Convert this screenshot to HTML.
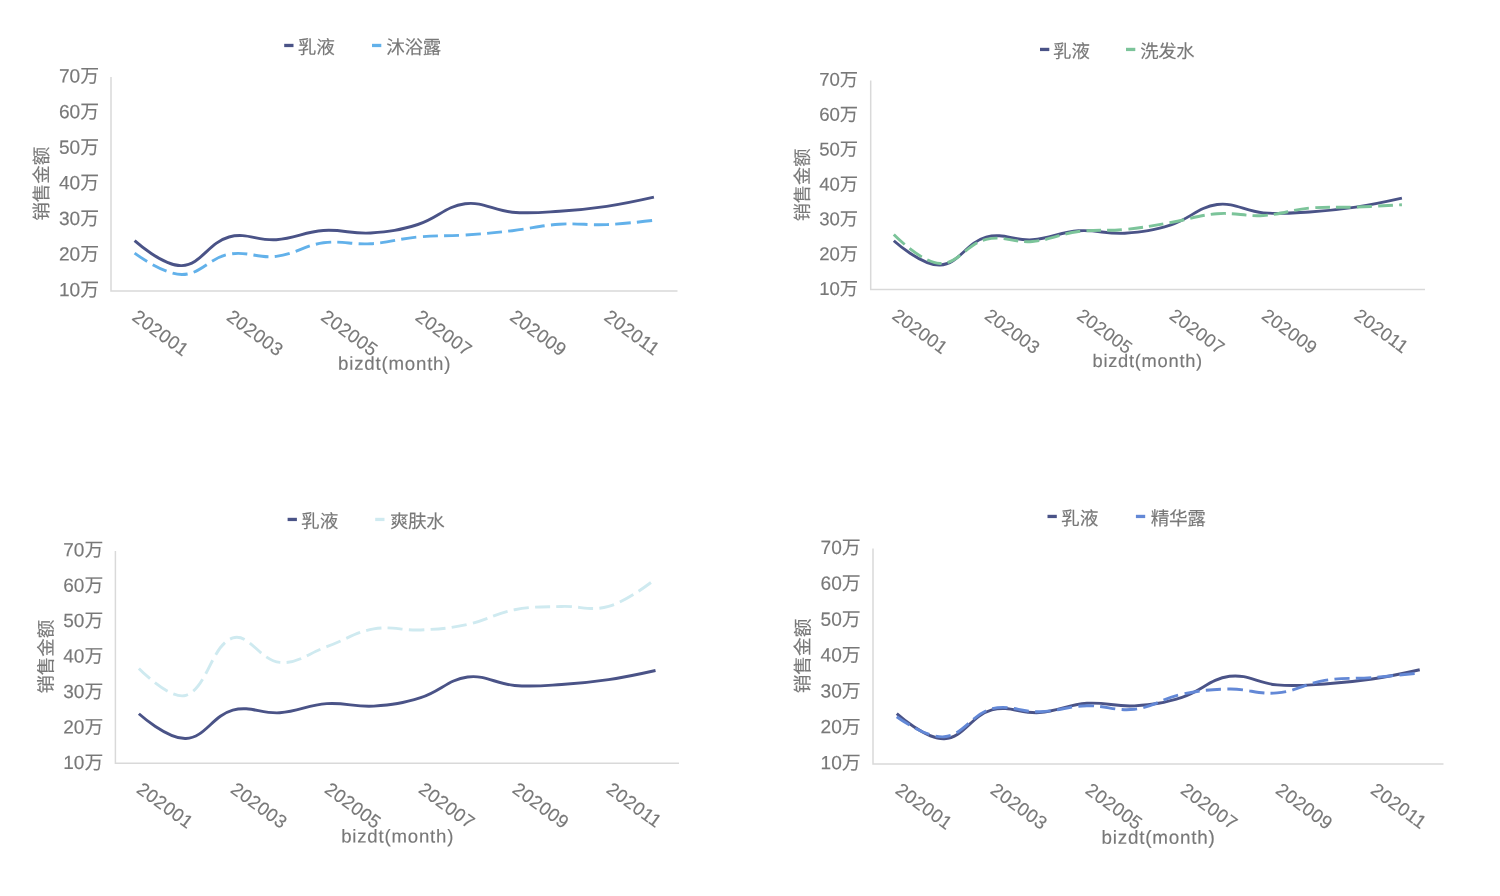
<!DOCTYPE html>
<html lang="zh-CN">
<head>
<meta charset="utf-8">
<title>销售金额 bizdt(month)</title>
<style>
html,body{margin:0;padding:0;background:#fff;}
body{width:1500px;height:896px;overflow:hidden;font-family:"Liberation Sans", "Noto Sans CJK SC", sans-serif;}
svg{display:block;filter:blur(0.45px);}
svg text{font-family:"Liberation Sans", "Noto Sans CJK SC", sans-serif;fill:#787878;font-weight:400;stroke:#787878;stroke-width:0.12px;}
svg .n{stroke-width:0.15px;}
</style>
</head>
<body>
<svg width="1500" height="896" viewBox="0 0 1500 896">
<rect width="1500" height="896" fill="#ffffff"/>
<g class="chart" id="c1">
<path class="axis" d="M111,77 V290.9 H677.5" fill="none" stroke="#d9d9d9" stroke-width="1.5"/>
<text class="yl" transform="translate(98.98,296.17) rotate(0.04)" text-anchor="end"><tspan class="n" font-size="19.1">10</tspan><tspan font-size="18.85">万</tspan></text>
<text class="yl" transform="translate(98.98,260.57) rotate(0.04)" text-anchor="end"><tspan class="n" font-size="19.1">20</tspan><tspan font-size="18.85">万</tspan></text>
<text class="yl" transform="translate(98.98,224.97) rotate(0.04)" text-anchor="end"><tspan class="n" font-size="19.1">30</tspan><tspan font-size="18.85">万</tspan></text>
<text class="yl" transform="translate(98.98,189.37) rotate(0.04)" text-anchor="end"><tspan class="n" font-size="19.1">40</tspan><tspan font-size="18.85">万</tspan></text>
<text class="yl" transform="translate(98.98,153.77) rotate(0.04)" text-anchor="end"><tspan class="n" font-size="19.1">50</tspan><tspan font-size="18.85">万</tspan></text>
<text class="yl" transform="translate(98.98,118.17) rotate(0.04)" text-anchor="end"><tspan class="n" font-size="19.1">60</tspan><tspan font-size="18.85">万</tspan></text>
<text class="yl" transform="translate(98.98,82.57) rotate(0.04)" text-anchor="end"><tspan class="n" font-size="19.1">70</tspan><tspan font-size="18.85">万</tspan></text>
<text class="yt" transform="translate(40.98,183.72) rotate(-89.96)" y="7.05" text-anchor="middle" font-size="18.55">销售金额</text>
<text class="xl n" transform="translate(134.85,314.05) rotate(36)" y="6.49" font-size="18.6" letter-spacing="0.37">202001</text>
<text class="xl n" transform="translate(229.27,314.05) rotate(36)" y="6.49" font-size="18.6" letter-spacing="0.37">202003</text>
<text class="xl n" transform="translate(323.69,314.05) rotate(36)" y="6.49" font-size="18.6" letter-spacing="0.37">202005</text>
<text class="xl n" transform="translate(418.10,314.05) rotate(36)" y="6.49" font-size="18.6" letter-spacing="0.37">202007</text>
<text class="xl n" transform="translate(512.52,314.05) rotate(36)" y="6.49" font-size="18.6" letter-spacing="0.37">202009</text>
<text class="xl n" transform="translate(606.94,314.05) rotate(36)" y="6.49" font-size="18.6" letter-spacing="0.37">202011</text>
<text class="xt n" transform="translate(338.02,369.83) rotate(0.04)" font-size="18.7" letter-spacing="0.785">bizdt(month)</text>
<line class="lm" x1="284.2" x2="293.5" y1="45.47" y2="45.47" stroke="#4a5387" stroke-width="3.3"/>
<text class="lg" transform="translate(297.76,53.64) rotate(0.04)" font-size="18.6">乳液</text>
<line class="lm" x1="372.0" x2="381.3" y1="45.47" y2="45.47" stroke="#62b1ea" stroke-width="3.3"/>
<text class="lg" transform="translate(386.3,53.64) rotate(0.04)" font-size="18.6" letter-spacing="-0.4">沐浴露</text>
<path class="s1" d="M134.60,240.70 C134.60,240.70 163.25,266.33 181.81,265.60 C201.01,264.85 208.68,242.58 229.02,237.00 C246.45,232.22 257.51,240.99 276.23,239.70 C295.27,238.39 304.39,231.85 323.44,230.50 C342.16,229.17 351.90,234.19 370.65,233.00 C389.67,231.79 399.66,230.15 417.85,224.50 C437.42,218.43 445.49,206.25 465.06,203.70 C483.26,201.33 493.24,210.67 512.27,212.20 C531.01,213.71 540.64,212.46 559.48,211.30 C578.41,210.14 587.93,209.20 606.69,206.40 C625.70,203.56 653.90,197.20 653.90,197.20" fill="none" stroke="#4a5387" stroke-width="2.9" stroke-linejoin="round"/>
<path class="s2" d="M134.60,253.20 C134.60,253.20 162.86,274.30 181.81,274.50 C200.62,274.70 209.35,257.97 229.02,254.20 C247.11,250.73 257.71,258.64 276.23,256.40 C295.48,254.08 304.18,245.39 323.44,242.80 C341.95,240.31 351.85,244.85 370.65,243.70 C389.62,242.53 398.89,238.75 417.85,237.00 C436.65,235.27 446.21,236.26 465.06,235.00 C483.98,233.74 493.44,232.85 512.27,230.70 C531.20,228.53 540.51,225.43 559.48,224.20 C578.27,222.99 587.84,225.38 606.69,224.60 C625.61,223.82 653.90,220.30 653.90,220.30" fill="none" stroke="#62b1ea" stroke-width="2.9" stroke-dasharray="15.2,6.3" stroke-linejoin="round"/>
</g>
<g class="chart" id="c2">
<path class="axis" d="M870.7,80.5 V289.5 H1425" fill="none" stroke="#d9d9d9" stroke-width="1.5"/>
<text class="yl" transform="translate(858.1,295.02) rotate(0.04)" text-anchor="end"><tspan class="n" font-size="18.6">10</tspan><tspan font-size="18.3">万</tspan></text>
<text class="yl" transform="translate(858.1,260.16) rotate(0.04)" text-anchor="end"><tspan class="n" font-size="18.6">20</tspan><tspan font-size="18.3">万</tspan></text>
<text class="yl" transform="translate(858.1,225.31) rotate(0.04)" text-anchor="end"><tspan class="n" font-size="18.6">30</tspan><tspan font-size="18.3">万</tspan></text>
<text class="yl" transform="translate(858.1,190.45) rotate(0.04)" text-anchor="end"><tspan class="n" font-size="18.6">40</tspan><tspan font-size="18.3">万</tspan></text>
<text class="yl" transform="translate(858.1,155.60) rotate(0.04)" text-anchor="end"><tspan class="n" font-size="18.6">50</tspan><tspan font-size="18.3">万</tspan></text>
<text class="yl" transform="translate(858.1,120.74) rotate(0.04)" text-anchor="end"><tspan class="n" font-size="18.6">60</tspan><tspan font-size="18.3">万</tspan></text>
<text class="yl" transform="translate(858.1,85.89) rotate(0.04)" text-anchor="end"><tspan class="n" font-size="18.6">70</tspan><tspan font-size="18.3">万</tspan></text>
<text class="yt" transform="translate(801.73,184.98) rotate(-89.96)" y="6.92" text-anchor="middle" font-size="18.2">销售金额</text>
<text class="xl n" transform="translate(894.80,312.80) rotate(36)" y="6.35" font-size="18.2" letter-spacing="0.37">202001</text>
<text class="xl n" transform="translate(987.18,312.80) rotate(36)" y="6.35" font-size="18.2" letter-spacing="0.37">202003</text>
<text class="xl n" transform="translate(1079.56,312.80) rotate(36)" y="6.35" font-size="18.2" letter-spacing="0.37">202005</text>
<text class="xl n" transform="translate(1171.95,312.80) rotate(36)" y="6.35" font-size="18.2" letter-spacing="0.37">202007</text>
<text class="xl n" transform="translate(1264.33,312.80) rotate(36)" y="6.35" font-size="18.2" letter-spacing="0.37">202009</text>
<text class="xl n" transform="translate(1356.71,312.80) rotate(36)" y="6.35" font-size="18.2" letter-spacing="0.37">202011</text>
<text class="xt n" transform="translate(1092.47,367.0) rotate(0.04)" font-size="18.3" letter-spacing="0.74">bizdt(month)</text>
<line class="lm" x1="1040.0" x2="1049.3" y1="49.45" y2="49.45" stroke="#4a5387" stroke-width="3.3"/>
<text class="lg" transform="translate(1053.1,57.78) rotate(0.04)" font-size="18.4">乳液</text>
<line class="lm" x1="1126.0" x2="1135.3" y1="49.45" y2="49.45" stroke="#7cc49a" stroke-width="3.3"/>
<text class="lg" transform="translate(1140.3,57.78) rotate(0.04)" font-size="18.4" letter-spacing="-0.4">洗发水</text>
<path class="s1" d="M893.80,240.75 C893.80,240.75 921.82,265.84 939.99,265.12 C958.77,264.39 966.28,242.59 986.18,237.13 C1003.23,232.45 1014.05,241.03 1032.37,239.77 C1051.00,238.49 1059.93,232.09 1078.56,230.76 C1096.88,229.46 1106.41,234.38 1124.75,233.21 C1143.37,232.03 1153.14,230.42 1170.95,224.89 C1190.09,218.95 1197.99,207.03 1217.14,204.53 C1234.94,202.21 1244.71,211.35 1263.33,212.85 C1281.66,214.33 1291.09,213.10 1309.52,211.97 C1328.05,210.83 1337.36,209.91 1355.71,207.17 C1374.31,204.39 1401.90,198.17 1401.90,198.17" fill="none" stroke="#4a5387" stroke-width="2.9" stroke-linejoin="round"/>
<path class="s2" d="M893.80,234.50 C893.80,234.50 921.10,262.52 939.99,263.50 C958.05,264.44 966.59,243.96 986.18,239.30 C1003.55,235.16 1014.10,243.04 1032.37,241.50 C1051.05,239.92 1059.88,233.93 1078.56,231.50 C1096.84,229.13 1106.37,231.29 1124.75,229.50 C1143.33,227.69 1152.53,225.65 1170.95,222.50 C1189.48,219.33 1198.50,215.11 1217.14,213.70 C1235.46,212.31 1244.96,216.61 1263.33,215.50 C1281.92,214.37 1290.93,209.79 1309.52,208.10 C1327.88,206.43 1337.25,207.78 1355.71,207.10 C1374.20,206.42 1401.90,204.70 1401.90,204.70" fill="none" stroke="#7cc49a" stroke-width="2.9" stroke-dasharray="14.9,6.1" stroke-linejoin="round"/>
</g>
<g class="chart" id="c3">
<path class="axis" d="M115.4,551 V763.3 H679" fill="none" stroke="#d9d9d9" stroke-width="1.5"/>
<text class="yl" transform="translate(103.16,768.93) rotate(0.04)" text-anchor="end"><tspan class="n" font-size="19.0">10</tspan><tspan font-size="18.8">万</tspan></text>
<text class="yl" transform="translate(103.16,733.48) rotate(0.04)" text-anchor="end"><tspan class="n" font-size="19.0">20</tspan><tspan font-size="18.8">万</tspan></text>
<text class="yl" transform="translate(103.16,698.03) rotate(0.04)" text-anchor="end"><tspan class="n" font-size="19.0">30</tspan><tspan font-size="18.8">万</tspan></text>
<text class="yl" transform="translate(103.16,662.58) rotate(0.04)" text-anchor="end"><tspan class="n" font-size="19.0">40</tspan><tspan font-size="18.8">万</tspan></text>
<text class="yl" transform="translate(103.16,627.13) rotate(0.04)" text-anchor="end"><tspan class="n" font-size="19.0">50</tspan><tspan font-size="18.8">万</tspan></text>
<text class="yl" transform="translate(103.16,591.68) rotate(0.04)" text-anchor="end"><tspan class="n" font-size="19.0">60</tspan><tspan font-size="18.8">万</tspan></text>
<text class="yl" transform="translate(103.16,556.23) rotate(0.04)" text-anchor="end"><tspan class="n" font-size="19.0">70</tspan><tspan font-size="18.8">万</tspan></text>
<text class="yt" transform="translate(45.45,656.72) rotate(-89.96)" y="7.01" text-anchor="middle" font-size="18.45">销售金额</text>
<text class="xl n" transform="translate(139.38,786.60) rotate(36)" y="6.46" font-size="18.5" letter-spacing="0.37">202001</text>
<text class="xl n" transform="translate(233.32,786.60) rotate(36)" y="6.46" font-size="18.5" letter-spacing="0.37">202003</text>
<text class="xl n" transform="translate(327.25,786.60) rotate(36)" y="6.46" font-size="18.5" letter-spacing="0.37">202005</text>
<text class="xl n" transform="translate(421.18,786.60) rotate(36)" y="6.46" font-size="18.5" letter-spacing="0.37">202007</text>
<text class="xl n" transform="translate(515.12,786.60) rotate(36)" y="6.46" font-size="18.5" letter-spacing="0.37">202009</text>
<text class="xl n" transform="translate(609.05,786.60) rotate(36)" y="6.46" font-size="18.5" letter-spacing="0.37">202011</text>
<text class="xt n" transform="translate(341.2,842.42) rotate(0.04)" font-size="18.6" letter-spacing="0.8">bizdt(month)</text>
<line class="lm" x1="287.6" x2="296.90000000000003" y1="519.45" y2="519.45" stroke="#4a5387" stroke-width="3.3"/>
<text class="lg" transform="translate(301.07,527.86) rotate(0.04)" font-size="18.6">乳液</text>
<line class="lm" x1="375.2" x2="384.5" y1="519.45" y2="519.45" stroke="#cfeaf0" stroke-width="3.3"/>
<text class="lg" transform="translate(389.92,527.86) rotate(0.04)" font-size="18.6" letter-spacing="-0.4">爽肤水</text>
<path class="s1" d="M138.88,713.78 C138.88,713.78 167.38,739.26 185.85,738.54 C204.95,737.79 212.58,715.65 232.82,710.10 C250.15,705.35 261.16,714.07 279.78,712.79 C298.73,711.48 307.80,704.98 326.75,703.64 C345.37,702.32 355.07,707.31 373.72,706.12 C392.64,704.92 402.58,703.29 420.68,697.67 C440.15,691.63 448.18,679.52 467.65,676.99 C485.75,674.63 495.68,683.92 514.62,685.44 C533.26,686.94 542.85,685.70 561.58,684.55 C580.42,683.39 589.89,682.46 608.55,679.67 C627.46,676.85 655.52,670.52 655.52,670.52" fill="none" stroke="#4a5387" stroke-width="2.9" stroke-linejoin="round"/>
<path class="s2" d="M138.88,668.39 C138.88,668.39 170.00,700.51 185.85,695.36 C207.57,688.32 210.89,645.61 232.82,637.92 C248.47,632.43 260.37,660.58 279.78,662.40 C297.94,664.09 308.10,653.36 326.75,646.71 C345.67,639.97 354.30,632.40 373.72,628.93 C391.88,625.68 401.96,630.82 420.68,629.93 C439.53,629.02 449.24,628.39 467.65,624.43 C486.81,620.31 495.42,613.42 514.62,609.74 C532.99,606.23 542.77,607.11 561.58,606.45 C580.35,605.79 591.14,611.54 608.55,606.45 C628.72,600.55 655.52,578.97 655.52,578.97" fill="none" stroke="#cfeaf0" stroke-width="2.9" stroke-dasharray="15.2,6.3" stroke-linejoin="round"/>
</g>
<g class="chart" id="c4">
<path class="axis" d="M873,548.6 V764.1 H1443.5" fill="none" stroke="#d9d9d9" stroke-width="1.5"/>
<text class="yl" transform="translate(860.75,769.27) rotate(0.04)" text-anchor="end"><tspan class="n" font-size="19.1">10</tspan><tspan font-size="18.9">万</tspan></text>
<text class="yl" transform="translate(860.75,733.39) rotate(0.04)" text-anchor="end"><tspan class="n" font-size="19.1">20</tspan><tspan font-size="18.9">万</tspan></text>
<text class="yl" transform="translate(860.75,697.50) rotate(0.04)" text-anchor="end"><tspan class="n" font-size="19.1">30</tspan><tspan font-size="18.9">万</tspan></text>
<text class="yl" transform="translate(860.75,661.62) rotate(0.04)" text-anchor="end"><tspan class="n" font-size="19.1">40</tspan><tspan font-size="18.9">万</tspan></text>
<text class="yl" transform="translate(860.75,625.74) rotate(0.04)" text-anchor="end"><tspan class="n" font-size="19.1">50</tspan><tspan font-size="18.9">万</tspan></text>
<text class="yl" transform="translate(860.75,589.85) rotate(0.04)" text-anchor="end"><tspan class="n" font-size="19.1">60</tspan><tspan font-size="18.9">万</tspan></text>
<text class="yl" transform="translate(860.75,553.97) rotate(0.04)" text-anchor="end"><tspan class="n" font-size="19.1">70</tspan><tspan font-size="18.9">万</tspan></text>
<text class="yt" transform="translate(802.24,655.97) rotate(-89.96)" y="7.11" text-anchor="middle" font-size="18.7">销售金额</text>
<text class="xl n" transform="translate(897.97,787.30) rotate(36)" y="6.53" font-size="18.7" letter-spacing="0.37">202001</text>
<text class="xl n" transform="translate(993.05,787.30) rotate(36)" y="6.53" font-size="18.7" letter-spacing="0.37">202003</text>
<text class="xl n" transform="translate(1088.14,787.30) rotate(36)" y="6.53" font-size="18.7" letter-spacing="0.37">202005</text>
<text class="xl n" transform="translate(1183.22,787.30) rotate(36)" y="6.53" font-size="18.7" letter-spacing="0.37">202007</text>
<text class="xl n" transform="translate(1278.30,787.30) rotate(36)" y="6.53" font-size="18.7" letter-spacing="0.37">202009</text>
<text class="xl n" transform="translate(1373.39,787.30) rotate(36)" y="6.53" font-size="18.7" letter-spacing="0.37">202011</text>
<text class="xt n" transform="translate(1101.6,843.67) rotate(0.04)" font-size="18.85" letter-spacing="0.77">bizdt(month)</text>
<line class="lm" x1="1047.5" x2="1056.8" y1="516.45" y2="516.45" stroke="#4a5387" stroke-width="3.3"/>
<text class="lg" transform="translate(1061.06,524.90) rotate(0.04)" font-size="18.7">乳液</text>
<line class="lm" x1="1135.9" x2="1145.2" y1="516.45" y2="516.45" stroke="#6388d6" stroke-width="3.3"/>
<text class="lg" transform="translate(1150.64,524.90) rotate(0.04)" font-size="18.7" letter-spacing="-0.4">精华露</text>
<path class="s1" d="M896.77,713.60 C896.77,713.60 925.62,739.44 944.31,738.70 C963.65,737.94 971.37,715.50 991.85,709.87 C1009.40,705.06 1020.54,713.89 1039.40,712.60 C1058.57,711.27 1067.76,704.68 1086.94,703.32 C1105.79,701.98 1115.60,707.04 1134.48,705.84 C1153.63,704.62 1163.70,702.97 1182.02,697.27 C1201.73,691.15 1209.85,678.88 1229.56,676.31 C1247.89,673.92 1257.94,683.33 1277.10,684.88 C1295.97,686.40 1305.68,685.14 1324.65,683.97 C1343.71,682.80 1353.30,681.85 1372.19,679.03 C1391.33,676.17 1419.73,669.76 1419.73,669.76" fill="none" stroke="#4a5387" stroke-width="2.9" stroke-linejoin="round"/>
<path class="s2" d="M896.77,716.76 C896.77,716.76 925.94,738.32 944.31,736.77 C963.97,735.12 971.44,714.12 991.85,708.75 C1009.47,704.11 1020.44,712.35 1039.40,711.75 C1058.47,711.15 1067.87,706.25 1086.94,705.75 C1105.90,705.25 1115.89,711.50 1134.48,709.25 C1153.92,706.90 1162.61,698.36 1182.02,694.24 C1200.64,690.28 1210.52,689.29 1229.56,689.03 C1248.55,688.77 1258.37,694.63 1277.10,692.93 C1296.41,691.19 1305.33,683.55 1324.65,680.42 C1343.36,677.39 1353.20,679.00 1372.19,677.52 C1391.23,676.04 1419.73,673.02 1419.73,673.02" fill="none" stroke="#6388d6" stroke-width="2.9" stroke-dasharray="15.4,6.35" stroke-linejoin="round"/>
</g>
</svg>
</body>
</html>
